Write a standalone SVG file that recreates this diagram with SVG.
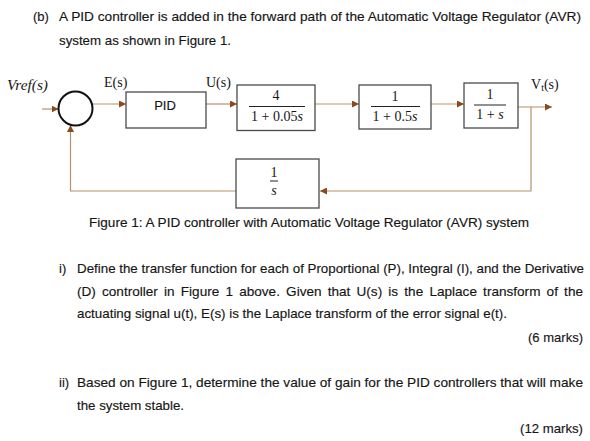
<svg xmlns="http://www.w3.org/2000/svg" width="590" height="441" viewBox="0 0 590 441">
<style>
.t{font-family:"Liberation Sans",Arial,sans-serif;font-size:13px;fill:#161616;stroke:#161616;stroke-width:0.15}
.m{font-family:"Liberation Serif","DejaVu Serif",serif;font-size:14px;fill:#161616}
.i{font-style:italic}
.box{fill:#fff;stroke:#4a4a4a;stroke-width:1.3}
.bar{stroke:#222;stroke-width:1}
.c{fill:none;stroke:#b8916a;stroke-width:1.2}
</style>
<defs>
<marker id="ah" viewBox="0 0 10 10" refX="10" refY="5" markerWidth="7" markerHeight="7" markerUnits="userSpaceOnUse" orient="auto">
<path d="M0,0 L10,5 L0,10 z" fill="#8a4a1e"/>
</marker>
</defs>
<rect width="590" height="441" fill="#fff"/>

<g id="question-text">
<text class="t" x="33" y="21">(b)</text>
<text class="t" x="59" y="21" textLength="522" lengthAdjust="spacingAndGlyphs">A PID controller is added in the forward path of the Automatic Voltage Regulator (AVR)</text>
<text class="t" x="59" y="45" textLength="172" lengthAdjust="spacingAndGlyphs">system as shown in Figure 1.</text>
<text class="t" x="89" y="227" textLength="440" lengthAdjust="spacingAndGlyphs">Figure 1: A PID controller with Automatic Voltage Regulator (AVR) system</text>
<text class="t" x="59" y="273">i)</text>
<text class="t" x="77" y="273" textLength="507" lengthAdjust="spacingAndGlyphs">Define the transfer function for each of Proportional (P), Integral (I), and the Derivative</text>
<text class="t" x="77" y="296" word-spacing="2.3" textLength="506" lengthAdjust="spacingAndGlyphs">(D) controller in Figure 1 above. Given that U(s) is the Laplace transform of the</text>
<text class="t" x="77" y="318" textLength="430" lengthAdjust="spacingAndGlyphs">actuating signal u(t), E(s) is the Laplace transform of the error signal e(t).</text>
<text class="t" x="583" y="342" text-anchor="end" textLength="55" lengthAdjust="spacingAndGlyphs">(6 marks)</text>
<text class="t" x="59" y="387">ii)</text>
<text class="t" x="77" y="387" textLength="506" lengthAdjust="spacingAndGlyphs">Based on Figure 1, determine the value of gain for the PID controllers that will make</text>
<text class="t" x="77" y="410" textLength="107" lengthAdjust="spacingAndGlyphs">the system stable.</text>
<text class="t" x="583" y="433" text-anchor="end" textLength="63" lengthAdjust="spacingAndGlyphs">(12 marks)</text>
</g>

<g id="connectors">
<path class="c" d="M42,109 L58.5,109" marker-end="url(#ah)"/>
<path class="c" d="M92,104 L126,104" marker-end="url(#ah)"/>
<path class="c" d="M206,104 L237,104" marker-end="url(#ah)"/>
<path class="c" d="M315,104 L359,104" marker-end="url(#ah)"/>
<path class="c" d="M431,104 L464,104" marker-end="url(#ah)"/>
<path class="c" d="M518,107 L552,107" marker-end="url(#ah)"/>
<path class="c" d="M531,107 L531,191 L320,191" marker-end="url(#ah)"/>
<path class="c" d="M236,191 L70.5,191 L70.5,125" marker-end="url(#ah)"/>
</g>

<g id="labels">
<text class="m i" x="7" y="90" textLength="41" lengthAdjust="spacingAndGlyphs">Vref(s)</text>
<text class="m" x="104" y="87">E(s)</text>
<text class="m" x="206" y="87">U(s)</text>
<text class="m" x="531" y="89">V<tspan font-size="10" dy="2">t</tspan><tspan dy="-2">(s)</tspan></text>
</g>

<g id="sum">
<circle cx="75.5" cy="108.5" r="17" fill="#fff" stroke="#111" stroke-width="2"/>
</g>

<g id="pid">
<rect class="box" x="126" y="92" width="80" height="36"/>
<text class="t" x="165" y="110" text-anchor="middle" font-size="14.5">PID</text>
</g>

<g id="g1">
<rect class="box" x="237" y="85" width="78" height="45.5"/>
<text class="m" x="276" y="100" text-anchor="middle">4</text>
<line class="bar" x1="249" y1="106.5" x2="305" y2="106.5"/>
<text class="m" x="277" y="120.5" text-anchor="middle">1 + 0.05<tspan class="i">s</tspan></text>
</g>

<g id="g2">
<rect class="box" x="359" y="85" width="72" height="44"/>
<text class="m" x="395" y="101" text-anchor="middle">1</text>
<line class="bar" x1="371" y1="106.5" x2="420" y2="106.5"/>
<text class="m" x="395" y="121" text-anchor="middle">1 + 0.5<tspan class="i">s</tspan></text>
</g>

<g id="g3">
<rect class="box" x="464" y="83" width="54" height="45"/>
<text class="m" x="490" y="99" text-anchor="middle">1</text>
<line class="bar" x1="474" y1="105" x2="506" y2="105"/>
<text class="m" x="490" y="119" text-anchor="middle">1 + <tspan class="i">s</tspan></text>
</g>

<g id="h">
<rect class="box" x="236" y="159" width="83" height="49"/>
<text class="m" x="274" y="177" text-anchor="middle">1</text>
<line class="bar" x1="270" y1="181" x2="278" y2="181"/>
<text class="m i" x="274" y="195" text-anchor="middle">s</text>
</g>
</svg>
